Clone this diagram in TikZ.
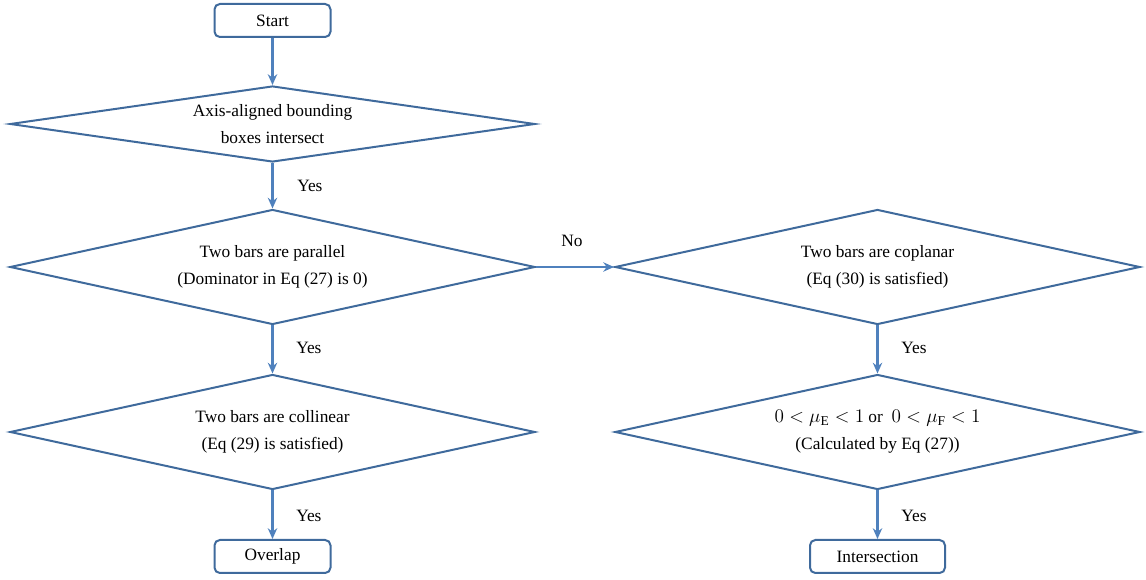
\documentclass[tikz,border=0pt]{standalone}
\usepackage{fontspec}
\setmainfont{Liberation Serif}
\usetikzlibrary{shapes.geometric,arrows.meta}
\definecolor{outl}{HTML}{3F6A9C}
\definecolor{arr}{HTML}{4F81BD}
\newcommand{\eqmath}[1]{{\fontsize{14.5}{20}\selectfont$#1$}}
\begin{document}
\begin{tikzpicture}[x=0.75pt,y=-0.75pt,
  font=\fontsize{13}{20.5}\selectfont,
  termbox/.style={draw=outl,line width=1.5pt,rounded corners=4pt,minimum width=116*0.75pt,minimum height=33*0.75pt,inner sep=0pt},
  decbox/.style={draw=outl,line width=1.5pt,diamond,inner sep=0pt,shape aspect=4.5,minimum width=525*0.75pt,minimum height=115*0.75pt,align=center},
  flow/.style={draw=arr,line width=2pt,-{Stealth[length=8pt,width=7pt,inset=2.5pt]}},
  lab/.style={anchor=west,inner sep=0pt}]
\useasboundingbox (0,0) rectangle (1146,580);
\node[termbox] (start) at (272.5,20.5) {Start};
\node[decbox,shape aspect=6.8,minimum height=76*0.75pt] (d1) at (272.5,124) {Axis-aligned bounding\\boxes intersect};
\node[decbox] (d2) at (272.5,267) {Two bars are parallel\\(Dominator in Eq (27) is 0)};
\node[decbox] (d3) at (272.5,432) {Two bars are collinear\\(Eq (29) is satisfied)};
\node[termbox] (ov) at (272.5,556.5) {Overlap};
\node[decbox] (d4) at (877.5,267) {Two bars are coplanar\\(Eq (30) is satisfied)};
\node[decbox] (d5) at (877.5,432) {\eqmath{0<\mu_{\mathrm{E}}<1} or\ \ \eqmath{0<\mu_{\mathrm{F}}<1}\\(Calculated by Eq (27))};
\node[termbox,minimum width=135*0.75pt] (in) at (877.5,556.5) {Intersection};
\draw[flow] (start.south) -- (d1.north);
\draw[flow] (d1.south) -- (d2.north);
\draw[flow] (d2.south) -- (d3.north);
\draw[flow] (d3.south) -- (ov.north);
\draw[flow] (d2.east) -- (d4.west);
\draw[flow] (d4.south) -- (d5.north);
\draw[flow] (d5.south) -- (in.north);
\node[lab] (y1) at (297,186) {Yes};
\node[lab] (y2) at (296,348) {Yes};
\node[lab] (y3) at (296,516) {Yes};
\node[lab] (y4) at (901,348) {Yes};
\node[lab] (y5) at (901,516) {Yes};
\node[lab] (no) at (561,241) {No};
\end{tikzpicture}
\end{document}
